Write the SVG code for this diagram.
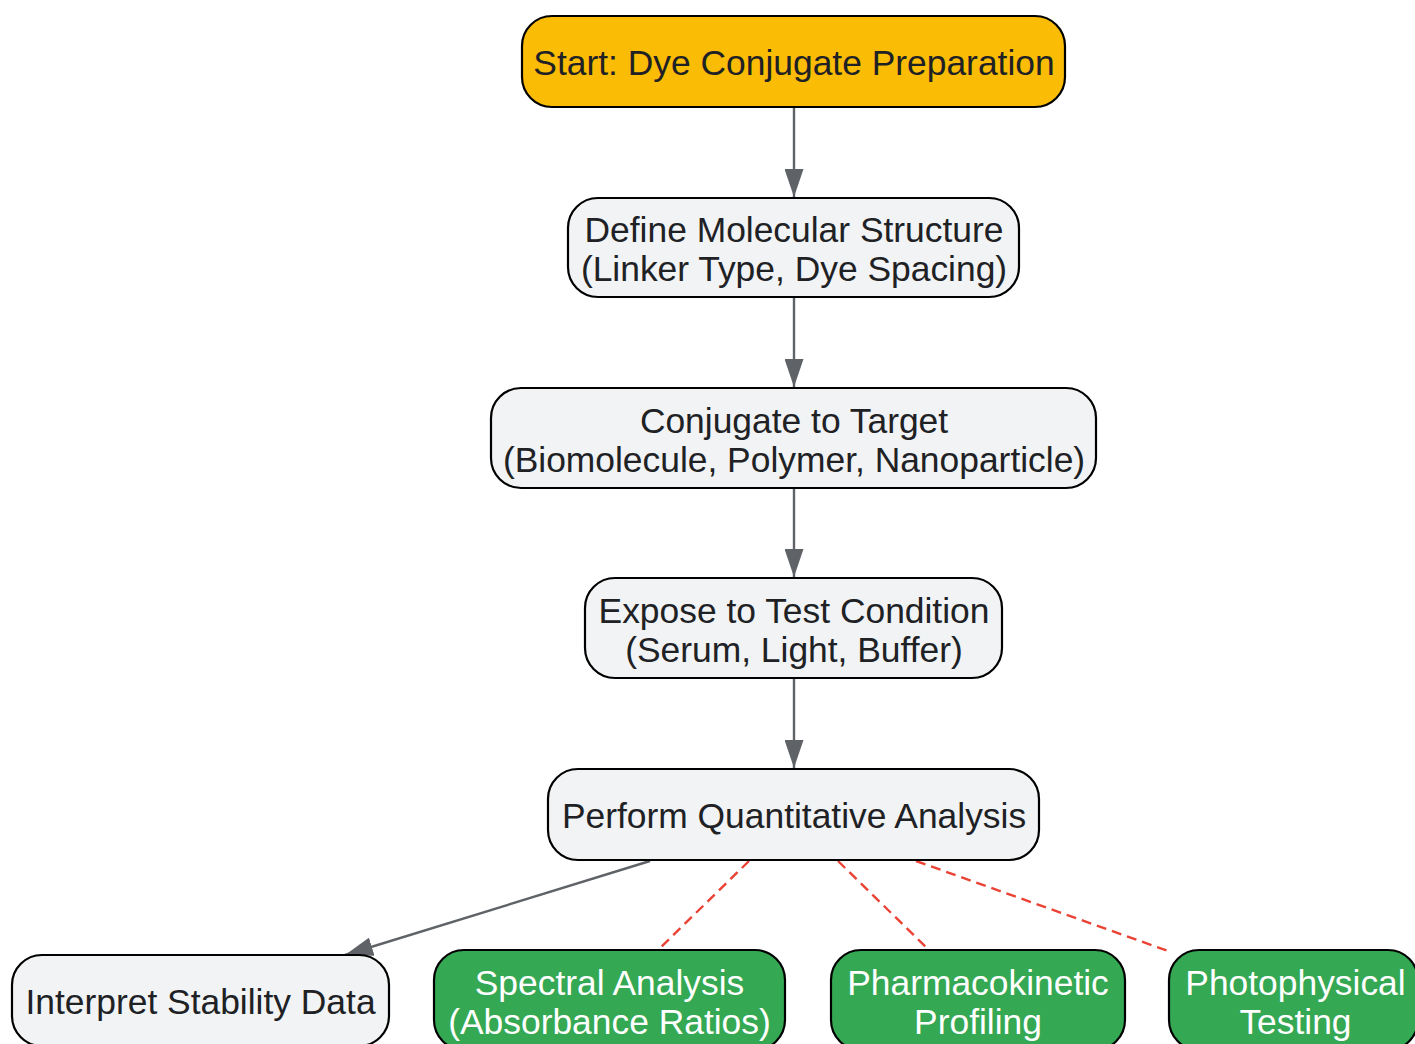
<svg xmlns="http://www.w3.org/2000/svg" width="1415" height="1044" viewBox="0 0 1415 1044">
<style>
.box{stroke:#000;stroke-width:2.2}
.start{fill:#fbbc05}
.proc{fill:#f1f3f4}
.green{fill:#34a853}
text{font-family:"Liberation Sans",Arial,sans-serif;font-size:35.4px;text-anchor:middle}
.dark{fill:#202124}
.light{fill:#ffffff}
.edge{stroke:#5f6368;stroke-width:2.4;fill:none}
.dash{stroke:#ea4335;stroke-width:2.4;fill:none;stroke-dasharray:10,6}
</style>
<defs>
<marker id="arr" markerUnits="userSpaceOnUse" markerWidth="28" markerHeight="19" refX="28" refY="9.5" orient="auto">
<path d="M0,0 L28,9.5 L0,19 z" fill="#5f6368"/>
</marker>
</defs>
<rect width="1415" height="1044" fill="#ffffff"/>
<g id="connectors">
<line class="edge" x1="794" y1="108" x2="794" y2="197" marker-end="url(#arr)"/>
<line class="edge" x1="794" y1="298" x2="794" y2="387" marker-end="url(#arr)"/>
<line class="edge" x1="794" y1="489" x2="794" y2="577" marker-end="url(#arr)"/>
<line class="edge" x1="794" y1="679" x2="794" y2="768" marker-end="url(#arr)"/>
<line class="edge" x1="650" y1="861" x2="345" y2="955" marker-end="url(#arr)"/>
<line class="dash" x1="749" y1="861" x2="659" y2="949"/>
<line class="dash" x1="838" y1="861" x2="928" y2="949"/>
<line class="dash" x1="916" y1="861" x2="1168" y2="951"/>
</g>
<g id="start">
<rect class="box start" x="522" y="16" width="543" height="91" rx="30"/>
<text class="dark" x="794" y="75">Start: Dye Conjugate Preparation</text>
</g>
<g id="define">
<rect class="box proc" x="568" y="198" width="451" height="99" rx="30"/>
<text class="dark" x="794" y="242">Define Molecular Structure</text>
<text class="dark" x="794" y="281">(Linker Type, Dye Spacing)</text>
</g>
<g id="conjugate">
<rect class="box proc" x="491" y="388" width="605" height="100" rx="30"/>
<text class="dark" x="794" y="432.5">Conjugate to Target</text>
<text class="dark" x="794" y="471.5">(Biomolecule, Polymer, Nanoparticle)</text>
</g>
<g id="expose">
<rect class="box proc" x="585" y="578" width="417" height="100" rx="30"/>
<text class="dark" x="794" y="622.5">Expose to Test Condition</text>
<text class="dark" x="794" y="661.5">(Serum, Light, Buffer)</text>
</g>
<g id="perform">
<rect class="box proc" x="548" y="769" width="491" height="91" rx="30"/>
<text class="dark" x="794" y="828">Perform Quantitative Analysis</text>
</g>
<g id="interpret">
<rect class="box proc" x="12" y="955" width="377" height="91" rx="30"/>
<text class="dark" x="200.5" y="1014">Interpret Stability Data</text>
</g>
<g id="spectral">
<rect class="box green" x="434" y="950" width="351" height="100" rx="30"/>
<text class="light" x="609.5" y="994.5">Spectral Analysis</text>
<text class="light" x="609.5" y="1033.5">(Absorbance Ratios)</text>
</g>
<g id="pharmaco">
<rect class="box green" x="831" y="950" width="294" height="100" rx="30"/>
<text class="light" x="978" y="994.5">Pharmacokinetic</text>
<text class="light" x="978" y="1033.5">Profiling</text>
</g>
<g id="photo">
<rect class="box green" x="1169" y="950" width="249" height="100" rx="30"/>
<text class="light" x="1295.5" y="994.5">Photophysical</text>
<text class="light" x="1295.5" y="1033.5">Testing</text>
</g>
</svg>
